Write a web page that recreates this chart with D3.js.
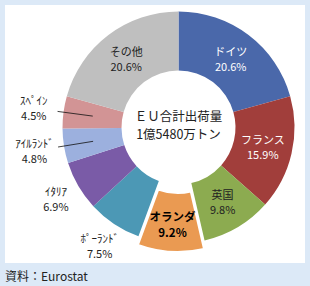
<!DOCTYPE html>
<html>
<head>
<meta charset="utf-8">
<script src="https://cdn.jsdelivr.net/npm/d3@7"></script>
<style>
  body { margin: 0; background: #dce9f7; }
  svg { display: block; font-family: "Noto Sans CJK JP", sans-serif; }
</style>
</head>
<body>
<svg id="chart" width="310" height="286"></svg>
<script>
// EU shipments by country (share, %)
const countries = ["ドイツ", "フランス", "英国", "オランダ", "ﾎﾟｰﾗﾝﾄﾞ", "ｲﾀﾘｱ", "ｱｲﾙﾗﾝﾄﾞ", "ｽﾍﾟｲﾝ", "その他"];
const shares = [20.6, 15.9, 9.8, 9.2, 7.5, 6.9, 4.8, 4.5, 20.6];
const colors = ["#4a68aa", "#a13e3b", "#8cab50", "#ea9a52", "#4c98b5", "#7a5ba7", "#9cb0de", "#d29495", "#bfbfbf"];
const centerLines = ["ＥＵ合計出荷量", "1億5480万トン"];
const highlight = "オランダ";
const source = "資料：Eurostat";

var svg = d3.select("#chart");

// white panel
svg.append("rect")
    .attr("x", 5).attr("y", 5)
    .attr("width", 300).attr("height", 258)
    .attr("fill", "#fff");

var cx = 178.5, cy = 127.5,
    outerR = 116, innerR = 57,
    midR = (outerR + innerR) / 2;

var g = svg.append("g").attr("transform", "translate(" + cx + "," + cy + ")");

var data = countries.map((c, i) => ({name: c, value: shares[i], color: colors[i]}));

var pie = d3.pie().sort(null).value(d => d.value);
var arcs = pie(data);

var arc = d3.arc().innerRadius(innerR).outerRadius(outerR);
var midArc = d3.arc().innerRadius(midR).outerRadius(midR);

function polar(a, r) {
    return [Math.sin(a) * r, -Math.cos(a) * r];
}
function midAngle(d) { return (d.startAngle + d.endAngle) / 2; }

// slices (highlighted one pulled out)
g.selectAll("path")
    .data(arcs)
    .enter()
    .append("path")
    .attr("d", arc)
    .attr("fill", d => d.data.color)
    .attr("stroke", d => d.data.name == highlight ? "#fff" : "none")
    .attr("stroke-width", 2)
    .attr("transform", function(d) {
        if (d.data.name != highlight) return null;
        var p = polar(midAngle(d), 8.5);
        return "translate(" + p[0] + "," + p[1] + ")";
    });

// labels
arcs.forEach(function(d) {
    var a = midAngle(d), pos, fill = "#222", weight = "normal", size = 11, gap = 15;
    if (d.value >= 9) {
        pos = midArc.centroid(d);
        if (d.data.name == highlight) {
            var p = polar(a, 8.5);
            pos = [pos[0] + p[0], pos[1] + p[1] + 2];
            fill = "#000"; weight = "bold"; size = 11.5; gap = 16;
        } else if (d.data.color == colors[0] || d.data.color == colors[1]) {
            fill = "#fff";
        }
    } else if (d.value >= 5) {
        pos = polar(a, 142);
    } else {
        pos = polar(a, 146);
        var p1 = polar(a, midR), p2 = polar(a, 122);
        g.append("line")
            .attr("x1", p1[0]).attr("y1", p1[1])
            .attr("x2", p2[0]).attr("y2", p2[1])
            .attr("stroke", "#111").attr("stroke-width", 0.8);
    }
    [d.data.name, d3.format(".1f")(d.value) + "%"].forEach(function(s, i) {
        g.append("text")
            .attr("text-anchor", "middle")
            .attr("fill", fill)
            .attr("font-weight", weight)
            .attr("font-size", size)
            .attr("x", pos[0])
            .attr("y", pos[1] - 3 + i * gap)
            .text(s);
    });
});

// centre text
g.selectAll(".center")
    .data(centerLines)
    .enter()
    .append("text")
    .attr("class", "center")
    .attr("text-anchor", "middle")
    .attr("font-size", 12.5)
    .attr("fill", "#222")
    .attr("y", (d, i) => -7 + i * 18.5)
    .text(d => d);

// source
svg.append("text")
    .attr("x", 5).attr("y", 281)
    .attr("font-size", 12)
    .attr("fill", "#222")
    .text(source);
</script>
</body>
</html>
